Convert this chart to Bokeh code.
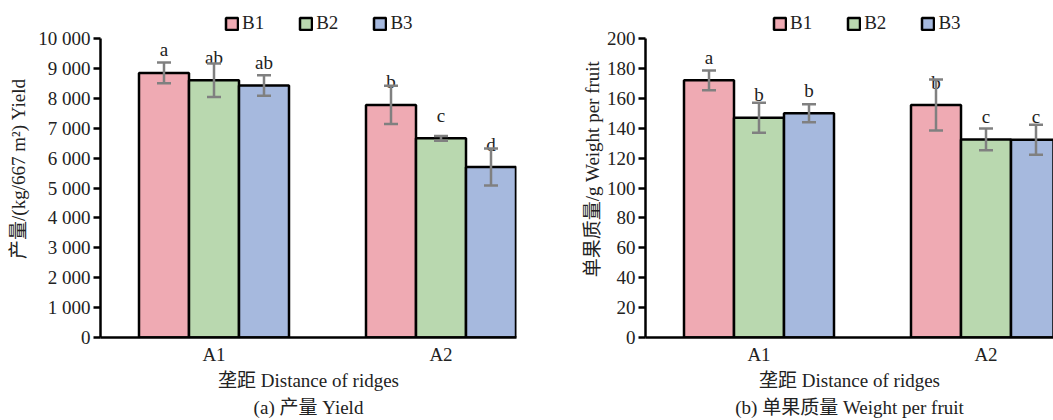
from bokeh.plotting import figure
from bokeh.models import (Range1d, FixedTicker, ColumnDataSource, Whisker, TeeHead,
                          Legend, LegendItem, Title)
from bokeh.layouts import row
from bokeh.embed import file_html
from bokeh.resources import INLINE
from bokeh.core.properties import value

# ---------------- data ----------------
ridges = ["A1", "A2"]
treatments = ["B1", "B2", "B3"]
colors = ["#EFAAB3", "#B9D8AF", "#A6B9DE"]

yield_B1 = [8850, 7780]
yield_B2 = [8600, 6660]
yield_B3 = [8430, 5700]
yield_err_B1 = [350, 640]
yield_err_B2 = [560, 80]
yield_err_B3 = [345, 620]
yield_sig_B1 = ["a", "b"]
yield_sig_B2 = ["ab", "c"]
yield_sig_B3 = ["ab", "d"]
yield_ticks = [0, 1000, 2000, 3000, 4000, 5000, 6000, 7000, 8000, 9000, 10000]
yield_tick_labels = ["0", "1 000", "2 000", "3 000", "4 000", "5 000",
                     "6 000", "7 000", "8 000", "9 000", "10 000"]

weight_B1 = [172, 155.5]
weight_B2 = [147, 132.5]
weight_B3 = [150, 132.3]
weight_err_B1 = [6.6, 17]
weight_err_B2 = [10, 7.3]
weight_err_B3 = [6, 10]
weight_sig_B1 = ["a", "b"]
weight_sig_B2 = ["b", "c"]
weight_sig_B3 = ["b", "c"]
weight_ticks = [0, 20, 40, 60, 80, 100, 120, 140, 160, 180, 200]
weight_tick_labels = [str(t) for t in weight_ticks]

FONT = "Liberation Serif, Noto Sans CJK SC, serif"
FS = "19px"
TXT = "#222222"
ERR = "#808080"

CAT_PX = 227.0   # pixel width of one category
BW = 50.0 / CAT_PX
FRAME_H = 337    # frame spans from top of figure to the x axis
AXIS_H = 299     # pixel height of the value axis (0 .. max)
BOTTOM = 420 - FRAME_H


def make_panel(width, border_left, frame_w, ymax, ticks, tick_labels, means, errs, sigs,
               ylabel, ylabel_standoff, xlabel, caption, legend_x, title_offset):
    p = figure(width=width, height=420, output_backend="svg", toolbar_location=None,
               x_range=Range1d(0, frame_w / CAT_PX),
               y_range=Range1d(0, ymax * FRAME_H / AXIS_H),
               min_border_left=border_left, min_border_right=width - border_left - frame_w,
               min_border_top=0, min_border_bottom=BOTTOM)
    p.outline_line_color = None
    p.grid.grid_line_color = None
    p.background_fill_color = None
    p.border_fill_color = None

    items = []
    for j, t in enumerate(treatments):
        xs = [i + 0.5 + (j - 1) * BW for i in range(len(ridges))]
        src = ColumnDataSource(dict(
            x=xs, top=means[j],
            upper=[m + e for m, e in zip(means[j], errs[j])],
            lower=[m - e for m, e in zip(means[j], errs[j])],
            sig=sigs[j]))
        r = p.vbar(x="x", top="top", width=BW, source=src, fill_color=colors[j],
                   line_color="black", line_width=2.5)
        items.append(LegendItem(label=t, renderers=[r]))
        w = Whisker(source=src, base="x", upper="upper", lower="lower",
                    line_color=ERR, line_width=2.5, level="annotation",
                    upper_head=TeeHead(size=14, line_color=ERR, line_width=2.5),
                    lower_head=TeeHead(size=14, line_color=ERR, line_width=2.5))
        p.add_layout(w)
        p.text(x="x", y="top", text="sig", source=src, text_align="center",
               text_baseline="alphabetic", y_offset=-23,
               text_font=value(FONT), text_font_size=FS, text_color=TXT)

    legend = Legend(items=items, orientation="horizontal", location=(legend_x, 303),
                    glyph_width=15, glyph_height=15, label_standoff=3, spacing=34,
                    padding=0, margin=0, border_line_color=None,
                    background_fill_alpha=0, label_text_font=FONT,
                    label_text_font_size=FS, label_text_color=TXT,
                    label_height=15)
    p.add_layout(legend)

    # y axis
    ya = p.yaxis[0]
    ya.bounds = (0, ymax)
    ya.ticker = FixedTicker(ticks=ticks)
    ya.major_label_overrides = {t: l for t, l in zip(ticks, tick_labels)}
    ya.axis_line_width = 2.5
    ya.axis_line_color = "black"
    ya.major_tick_line_width = 2.5
    ya.major_tick_line_color = "black"
    ya.major_tick_out = 7
    ya.major_tick_in = 0
    ya.minor_tick_line_color = None
    ya.major_label_standoff = 3
    ya.major_label_text_font = FONT
    ya.major_label_text_font_size = FS
    ya.major_label_text_color = TXT
    ya.axis_label = ylabel
    ya.axis_label_standoff = ylabel_standoff
    ya.axis_label_text_font = FONT
    ya.axis_label_text_font_size = FS
    ya.axis_label_text_font_style = "normal"
    ya.axis_label_text_color = TXT

    # x axis
    xa = p.xaxis[0]
    centers = [i + 0.5 for i in range(len(ridges))]
    xa.ticker = FixedTicker(ticks=centers)
    xa.major_label_overrides = {c: r for c, r in zip(centers, ridges)}
    xa.axis_line_width = 2.5
    xa.axis_line_color = "black"
    xa.major_tick_line_color = None
    xa.minor_tick_line_color = None
    xa.major_label_standoff = 0
    xa.major_label_text_font = FONT
    xa.major_label_text_font_size = FS
    xa.major_label_text_color = TXT

    for txt, so in ((xlabel, 1), (caption, 6)):
        p.add_layout(Title(text=txt, align="center", offset=title_offset, standoff=so,
                           text_font=FONT, text_font_size=FS, text_font_style="normal",
                           text_color=TXT), "below")
    return p


p1 = make_panel(530, 100, 416, 10000, yield_ticks, yield_tick_labels,
                [yield_B1, yield_B2, yield_B3],
                [yield_err_B1, yield_err_B2, yield_err_B3],
                [yield_sig_B1, yield_sig_B2, yield_sig_B3],
                "产量/(kg/667 m²) Yield", 6,
                "垄距 Distance of ridges", "(a) 产量 Yield", 124, 20)

p2 = make_panel(523, 115, 408, 200, weight_ticks, weight_tick_labels,
                [weight_B1, weight_B2, weight_B3],
                [weight_err_B1, weight_err_B2, weight_err_B3],
                [weight_sig_B1, weight_sig_B2, weight_sig_B3],
                "单果质量/g Weight per fruit", 1,
                "垄距 Distance of ridges", "(b) 单果质量 Weight per fruit", 127, 23)

layout = row(p1, p2)

open("out.html", "w").write(file_html(layout, INLINE))
